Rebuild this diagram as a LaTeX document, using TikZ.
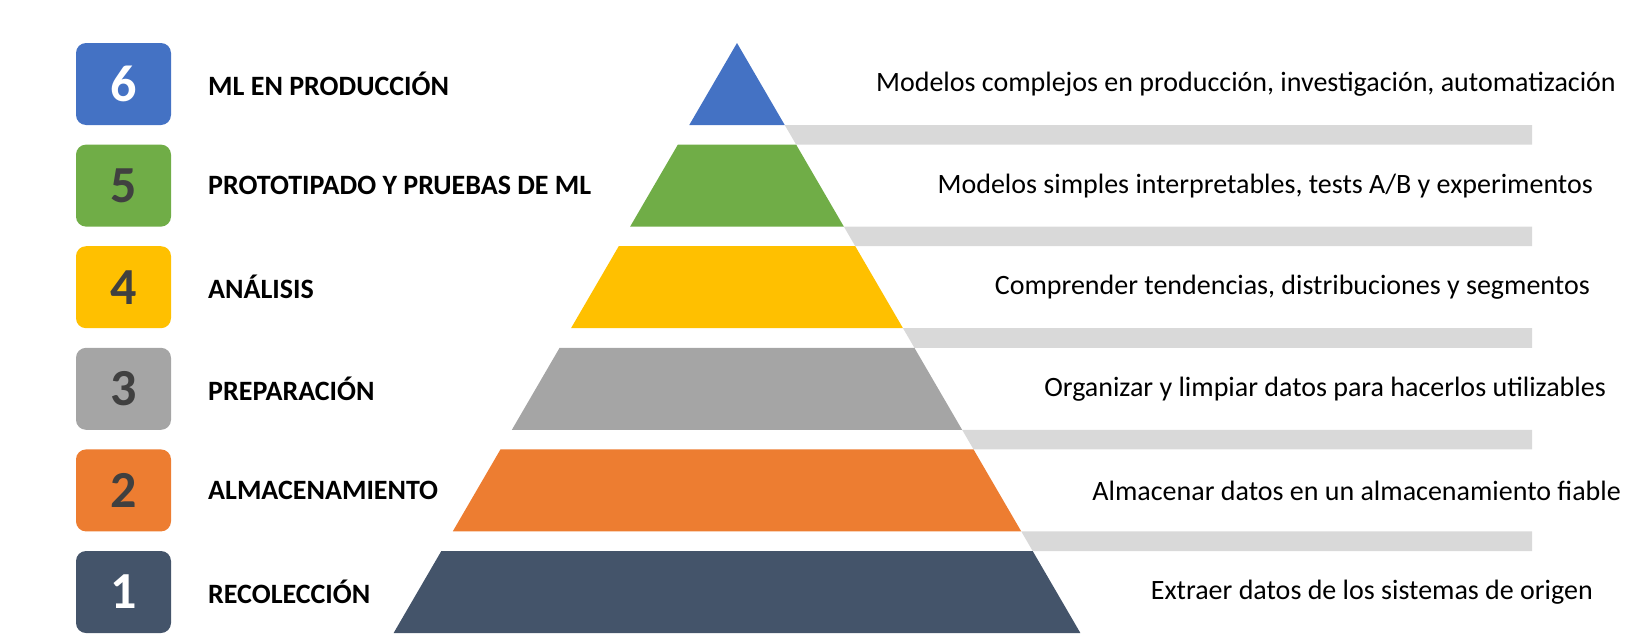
\documentclass[tikz,border=0pt]{standalone}
\usepackage{fontspec}
\setmainfont{Carlito}
\usepackage{tikz}
\definecolor{cSix}{HTML}{4472C4}
\definecolor{cFive}{HTML}{70AD47}
\definecolor{cFour}{HTML}{FFC000}
\definecolor{cThree}{HTML}{A5A5A5}
\definecolor{cTwo}{HTML}{ED7D31}
\definecolor{cOne}{HTML}{44546A}
\definecolor{numgray}{HTML}{404040}
\definecolor{bargray}{HTML}{D9D9D9}
\begin{document}
\begin{tikzpicture}[x=1pt,y=-1pt,
  numbox/.style={rounded corners=10pt,minimum width=95pt,minimum height=82pt,inner sep=0pt,font=\fontsize{52}{52}\selectfont\bfseries},
  lab/.style={anchor=west,inner sep=0pt,font=\fontsize{28}{28}\selectfont\bfseries},
  desc/.style={anchor=east,inner sep=0pt,font=\fontsize{28}{28}\selectfont}]
\useasboundingbox (0,0) rectangle (1626,640);
% draw layers, boxes and texts
\foreach \k/\fc/\nc/\lab/\desc/\dx in {
  6/cSix/white/{ML EN PRODUCCIÓN}/{Modelos complejos en producción, investigación, automatización}/1616,
  5/cFive/numgray/{PROTOTIPADO Y PRUEBAS DE ML}/{Modelos simples interpretables, tests A/B y experimentos}/1593,
  4/cFour/numgray/{ANÁLISIS}/{Comprender tendencias, distribuciones y segmentos}/1590,
  3/cThree/numgray/{PREPARACIÓN}/{Organizar y limpiar datos para hacerlos utilizables}/1606,
  2/cTwo/numgray/{ALMACENAMIENTO}/{Almacenar datos en un almacenamiento fiable}/1621,
  1/cOne/white/{RECOLECCIÓN}/{Extraer datos de los sistemas de origen}/1593} {
\pgfmathsetmacro\t{43+(6-\k)*101.6}
\pgfmathsetmacro\b{\t+82}
\pgfmathsetmacro\wt{0.582*(\t-43)}
\pgfmathsetmacro\wb{0.582*(\b-43)}
\pgfmathsetmacro\wn{0.582*(\b+19.6-43)}
\fill[\fc] (737-\wt,\t) -- (737+\wt,\t) -- (737+\wb,\b) -- (737-\wb,\b) -- cycle;
\ifnum\k>1
\fill[bargray] (737+\wb,\b) -- (1532,\b) -- (1532,\b+19.6) -- (737+\wn,\b+19.6) -- cycle;
\fi
\node[numbox,fill=\fc,text=\nc] (num\k) at (123.5,\t+41) {\k};
\node[lab] (lab\k) at (208,\t+41) {\lab};
\node[desc] (desc\k) at (\dx,\t+41) {\desc};
}
\end{tikzpicture}
\end{document}
